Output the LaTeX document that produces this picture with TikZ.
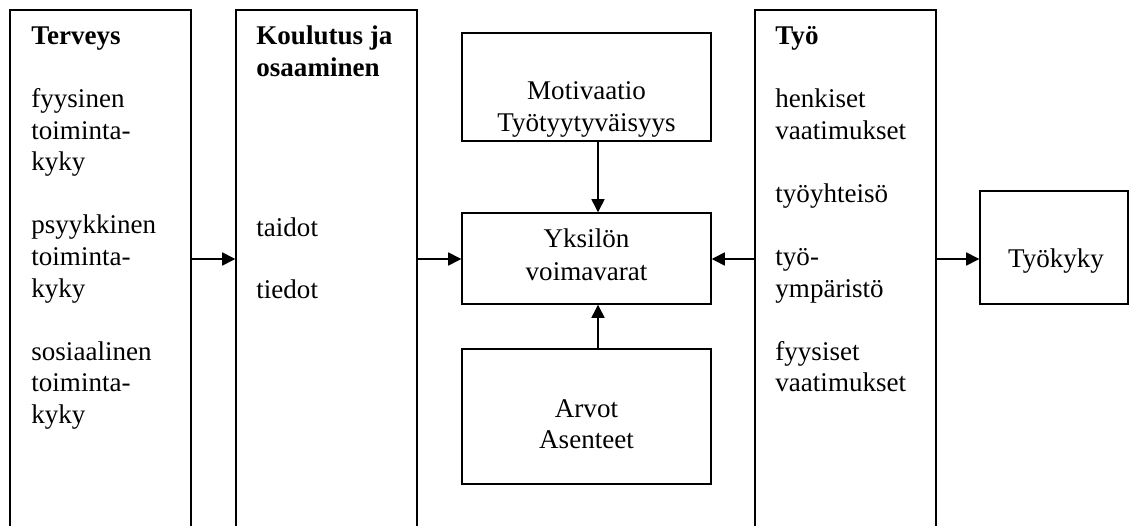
\documentclass[tikz,border=0pt]{standalone}
\usepackage{fontspec}
\setmainfont{Liberation Serif}
\usetikzlibrary{arrows.meta,fit}

\begin{document}
\begin{tikzpicture}[x=0.444pt, y=-0.444pt,
  box/.style={draw, line width=0.65pt, inner sep=0pt},
  txt/.style={anchor=base west, inner sep=0pt, font=\fontsize{12}{14}\selectfont},
  head/.style={txt, font=\fontsize{12}{14}\selectfont\bfseries},
  ctxt/.style={anchor=base, inner sep=0pt, font=\fontsize{12}{14}\selectfont},
  arr/.style={line width=0.65pt, -{Triangle[length=5.8pt,width=5.8pt]}}]
  \useasboundingbox (0,0) rectangle (1133,526);

  % tall column boxes, open at the bottom of the page
  \node[box, fit={(10,10) (191,560)}] (terveys) {};
  \node[box, fit={(236,10) (417,560)}] (koulutus) {};
  \node[box, fit={(755,10) (936,560)}] (tyo) {};

  % centre boxes
  \node[box, fit={(462,33) (711,141)}] (motiv) {};
  \node[box, fit={(462,213) (711,304)}] (yks) {};
  \node[box, fit={(462,349) (711,484)}] (arvot) {};
  \node[box, fit={(980,191) (1128,304)}] (tyokyky) {};

  % Terveys column
  \node[head] (terveys-h) at (31,45) {Terveys};
  \foreach \t/\yy [count=\i] in {fyysinen/108, toiminta-/139.5, kyky/171,
      psyykkinen/234, toiminta-/265.5, kyky/297,
      sosiaalinen/360, toiminta-/391.5, kyky/423}
    \node[txt] (terveys-\i) at (31,\yy) {\t};

  % Koulutus column
  \node[head] (koulutus-h1) at (256,45) {Koulutus ja};
  \node[head] (koulutus-h2) at (256,76.5) {osaaminen};
  \node[txt] (taidot) at (256,236) {taidot};
  \node[txt] (tiedot) at (256,298) {tiedot};

  % Työ column
  \node[head] (tyo-h) at (775,45) {Työ};
  \foreach \t/\yy [count=\i] in {henkiset/108, vaatimukset/139.5,
      työyhteisö/202.5, työ-/265, ympäristö/297,
      fyysiset/360, vaatimukset/391.5}
    \node[txt] (tyo-\i) at (775,\yy) {\t};

  % centre texts
  \node[ctxt] (motiv-1) at (586.5,100) {Motivaatio};
  \node[ctxt] (motiv-2) at (586.5,131.5) {Työtyytyväisyys};
  \node[ctxt] (yks-1) at (586.5,248) {Yksilön};
  \node[ctxt] (yks-2) at (586.5,280) {voimavarat};
  \node[ctxt] (arvot-1) at (586.5,417) {Arvot};
  \node[ctxt] (arvot-2) at (586.5,448) {Asenteet};
  \node[ctxt] (tyokyky-t) at (1056,267) {Työkyky};

  % connectors
  \coordinate (row) at (0,259);
  \coordinate (col) at (598,0);
  \draw[arr] (terveys.east |- row) -- (koulutus.west |- row);
  \draw[arr] (koulutus.east |- row) -- (yks.west |- row);
  \draw[arr] (tyo.west |- row) -- (yks.east |- row);
  \draw[arr] (tyo.east |- row) -- (tyokyky.west |- row);
  \draw[arr] (motiv.south -| col) -- (yks.north -| col);
  \draw[arr] (arvot.north -| col) -- (yks.south -| col);
\end{tikzpicture}
\end{document}
